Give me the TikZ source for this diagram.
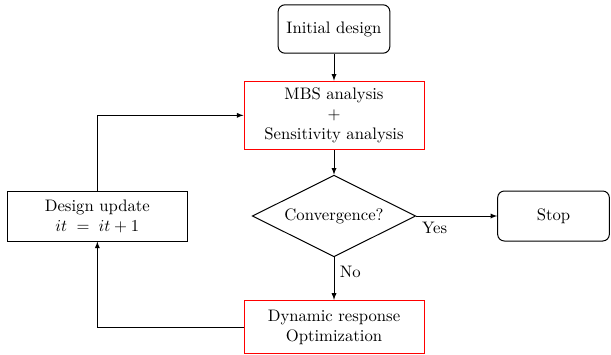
\documentclass[tikz,border=0pt]{standalone}
\usepackage{amsmath}
\usepackage{tikz}
\usetikzlibrary{positioning,shapes.geometric,arrows}

\begin{document}
\begin{tikzpicture}[x=0.6pt,y=-0.6pt,node distance=16pt,>=latex]
     \useasboundingbox (0,0) rectangle (611,354);
     \node[minimum width=67pt,minimum height=29pt,draw,semithick,rounded corners=4pt] (init) at (334,29) {Initial design};
     \node[minimum width=108pt,minimum height=41pt,draw=red,semithick,align=center,inner sep=1pt,below=16.2pt of init] (mbs) {MBS analysis\\$+$\\Sensitivity analysis};
     \node[diamond,aspect=2,minimum width=98pt,minimum height=49pt,draw,semithick,inner sep=1pt,below=14.8pt of mbs] (conv) {Convergence?};
     \node[minimum width=108pt,minimum height=32pt,draw=red,semithick,align=center,below=25.5pt of conv] (dyn) {Dynamic response\\Optimization};
     \node[minimum width=67pt,minimum height=30pt,draw,semithick,rounded corners=4pt,right=48.6pt of conv] (stop) {Stop};
     \node[minimum width=108pt,minimum height=30pt,draw,semithick,align=center,left=38.4pt of conv] (upd) {Design update\\$it \;=\; it+1$};

     \path[->]
     (init) edge (mbs)
     (mbs) edge (conv)
     (conv) edge node[pos=0,anchor=north west] {Yes} (stop)
     (conv) edge node[right,pos=0.35] {No} (dyn);

     \draw[->] (dyn.west) -| (upd.south);
     \draw[->] (upd.north) |- (mbs.west);
\end{tikzpicture}
\end{document}
